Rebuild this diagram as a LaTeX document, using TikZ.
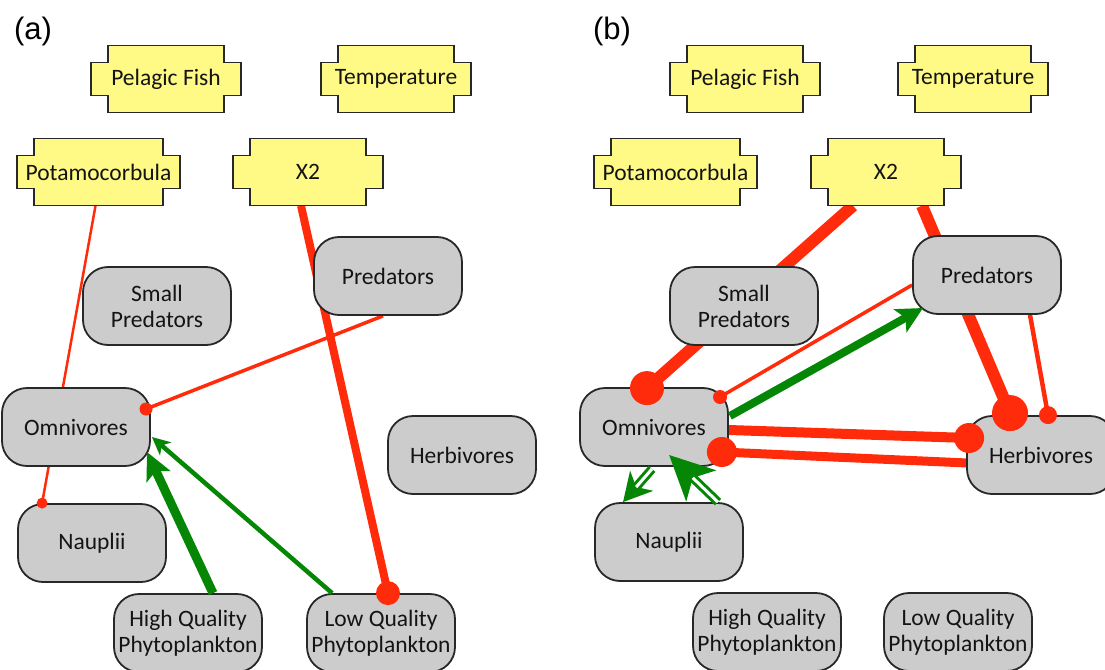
\documentclass[tikz,border=0pt]{standalone}
\usepackage{fontspec}
\setmainfont{Carlito}
\newfontfamily\labfont{Liberation Sans}
\usetikzlibrary{arrows.meta,calc}
\pgfdeclarelayer{bg}
\pgfsetlayers{bg,main}
\definecolor{yfill}{RGB}{255,250,133}
\definecolor{gfill}{RGB}{204,204,204}
\definecolor{bord}{RGB}{40,40,40}
\definecolor{redc}{RGB}{255,43,10}
\definecolor{grn}{RGB}{5,135,5}
\definecolor{txt}{RGB}{20,20,20}
\newcommand\nfont{\fontsize{23.5}{26}\selectfont}
\newcommand\ynode[5]{%
  \path[yshape] ({#2-#4/2+17},{#3-33.5}) -- ({#2+#4/2-17},{#3-33.5}) -- ({#2+#4/2-17},{#3-16.5}) -- ({#2+#4/2},{#3-16.5}) -- ({#2+#4/2},{#3+16.5}) -- ({#2+#4/2-17},{#3+16.5}) -- ({#2+#4/2-17},{#3+33.5}) -- ({#2-#4/2+17},{#3+33.5}) -- ({#2-#4/2+17},{#3+16.5}) -- ({#2-#4/2},{#3+16.5}) -- ({#2-#4/2},{#3-16.5}) -- ({#2-#4/2+17},{#3-16.5}) -- cycle;
  \node[ytext, minimum width=#4pt] (#1) at (#2,#3) {#5};
}
\begin{document}
\begin{tikzpicture}[x=1pt,y=-1pt,
  yshape/.style={fill=yfill, draw=bord, line width=1.8pt, line join=miter},
  ytext/.style={draw=none, minimum height=67pt, inner sep=0pt, font=\nfont, text=txt},
  gnode/.style={draw=bord, fill=gfill, line width=1.8pt, rounded corners=25pt, minimum width=148pt, minimum height=78pt, align=center, inner sep=0pt, font=\nfont, text=txt},
  redl/.style={draw=redc, line width=#1},
  grnl/.style={draw=grn, line width=#1},
  lab/.style={font=\labfont\fontsize{31}{34}\selectfont, text=black, inner sep=0pt}
]
\useasboundingbox (0,0) rectangle (1105,669);
\node[lab] (la) at (33,31) {(a)};
\node[lab] (lb) at (612,31) {(b)};
% ---------- panel a nodes
\ynode{pfA}{166}{79}{150}{Pelagic Fish}
\ynode{tempA}{396}{79}{150}{Temperature}
\ynode{potaA}{98.5}{172}{163}{Potamocorbula}
\ynode{xtwoA}{308}{172}{150}{X2}
\node[gnode] (spA) at (157,306) {Small\\Predators};
\node[gnode] (predA) at (388,276) {Predators};
\node[gnode] (omniA) at (76,427) {Omnivores};
\node[gnode] (hvA) at (462,455) {Herbivores};
\node[gnode] (naupA) at (92,543) {Nauplii};
\node[gnode] (hqA) at (188,633) {High Quality\\Phytoplankton};
\node[gnode] (lqA) at (381,633) {Low Quality\\Phytoplankton};
% ---------- panel b nodes
\ynode{pfB}{745}{79}{150}{Pelagic Fish}
\ynode{tempB}{973}{79}{150}{Temperature}
\ynode{potaB}{675.5}{172}{163}{Potamocorbula}
\ynode{xtwoB}{886}{172}{150}{X2}
\node[gnode] (spB) at (744,306) {Small\\Predators};
\node[gnode] (predB) at (987,275) {Predators};
\node[gnode] (omniB) at (654,427) {Omnivores};
\node[gnode] (hvB) at (1041,455) {Herbivores};
\node[gnode] (naupB) at (669,542) {Nauplii};
\node[gnode] (hqB) at (767,632) {High Quality\\Phytoplankton};
\node[gnode] (lqB) at (958,632) {Low Quality\\Phytoplankton};
% ---------- connector end points
\coordinate (a1s) at ($(potaA.south)+(-3,0)$);
\coordinate (a1e) at ($(naupA.north west)+(25,0)$);
\coordinate (a2s) at ($(predA.south)+(-5,0)$);
\coordinate (a2e) at ($(omniA)+(70,-18)$);
\coordinate (a3s) at ($(xtwoA.south)+(-7,0)$);
\coordinate (a3e) at ($(lqA.north)+(7,0)$);
\coordinate (a4s) at ($(hqA.north)+(25,0)$);
\coordinate (a4e) at ($(omniA)+(71,25)$);
\coordinate (a5s) at ($(lqA.north west)+(26,0)$);
\coordinate (a5e) at ($(omniA.east)+(1,10)$);
\coordinate (b1s) at ($(xtwoB.south)+(-33,0)$);
\coordinate (b1e) at ($(omniB.north)+(-7,1)$);
\coordinate (b2s) at ($(xtwoB.south)+(36,0)$);
\coordinate (b2e) at ($(hvB.north)+(-31,-2)$);
\coordinate (b3s) at ($(predB.south)+(43,0)$);
\coordinate (b3e) at ($(hvB.north)+(7,0)$);
\coordinate (b4s) at ($(predB.west)+(0,10)$);
\coordinate (b4e) at ($(omniB)+(66,-30)$);
\coordinate (b5s) at ($(omniB.east)+(1,-11)$);
\coordinate (b5e) at ($(predB)+(-64,33)$);
\coordinate (b6s) at ($(omniB.east)+(0,3)$);
\coordinate (b6e) at ($(hvB.west)+(3,-17)$);
\coordinate (b7s) at ($(hvB.west)+(1,8)$);
\coordinate (b7e) at ($(omniB.east)+(-7,25)$);
\coordinate (b8s) at ($(omniB.south)+(-2,2)$);
\coordinate (b8e) at ($(naupB.north)+(-46,0)$);
\coordinate (b9s) at ($(naupB.north)+(49,0)$);
\coordinate (b9e) at ($(omniB.south)+(15,-12)$);
% ---------- red links behind nodes
\begin{pgfonlayer}{bg}
\draw[redl=2.5pt] (a1s) -- (a1e);
\draw[redl=3.5pt] (a2s) -- (a2e);
\draw[redl=8pt] (a3s) -- (a3e);
\draw[redl=12pt] (b1s) -- (b1e);
\draw[redl=12pt] (b2s) -- (b2e);
\draw[redl=4.5pt] (b3s) -- (b3e);
\draw[redl=3.5pt] (b4s) -- (b4e);
\draw[redl=10pt] (b6s) -- (b6e);
\draw[redl=9pt] (b7s) -- (b7e);
\end{pgfonlayer}
% ---------- dots
\fill[redc] (a1e) circle (5.5pt);
\fill[redc] (a2e) circle (6.5pt);
\fill[redc] (a3e) circle (12pt);
\fill[redc] (b1e) circle (17pt);
\fill[redc] (b2e) circle (18pt);
\fill[redc] (b3e) circle (9pt);
\fill[redc] (b4e) circle (7pt);
\fill[redc] (b6e) circle (15pt);
\fill[redc] (b7e) circle (15pt);
% ---------- green arrows
\draw[grnl=9pt, -{Stealth[length=27pt,width=26pt,inset=6pt]}] (a4s) -- (a4e);
\draw[grnl=4.5pt, -{Stealth[length=18pt,width=17pt,inset=5pt]}] (a5s) -- (a5e);
\draw[grnl=8pt, -{Stealth[length=26pt,width=26pt,inset=6pt]}] (b5s) -- (b5e);
\draw[grnl=9pt, -{Stealth[length=28pt,width=30pt,inset=8pt]}] (b8s) -- (b8e);
\draw[white, line width=3pt, shorten >=20pt] (b8s) -- (b8e);
\draw[grnl=9pt, -{Stealth[length=44pt,width=42pt,inset=11pt]}] (b9s) -- (b9e);
\draw[white, line width=3pt, shorten >=33pt] (b9s) -- (b9e);
\end{tikzpicture}
\end{document}
